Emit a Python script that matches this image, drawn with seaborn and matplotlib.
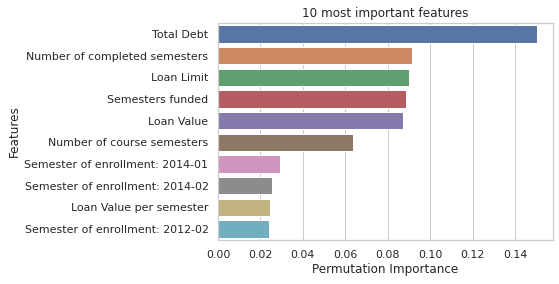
import matplotlib
matplotlib.use("Agg")
import matplotlib.pyplot as plt
import seaborn as sns
import pandas as pd

features = [
    "Total Debt",
    "Number of completed semesters",
    "Loan Limit",
    "Semesters funded",
    "Loan Value",
    "Number of course semesters",
    "Semester of enrollment: 2014-01",
    "Semester of enrollment: 2014-02",
    "Loan Value per semester",
    "Semester of enrollment: 2012-02",
]
importance = [0.1504, 0.0915, 0.0900, 0.0886, 0.0872, 0.0637, 0.0292, 0.0255, 0.0245, 0.0240]

sns.set_theme(style="whitegrid")
df = pd.DataFrame({"Features": features, "Permutation Importance": importance})

fig, ax = plt.subplots(figsize=(559 / 72, 284 / 72), dpi=72)
sns.barplot(data=df, x="Permutation Importance", y="Features", hue="Features",
            palette="deep", legend=False, ax=ax)
ax.set_title("10 most important features")
fig.subplots_adjust(left=218 / 559, right=553 / 559, top=1 - 23 / 284, bottom=1 - 240 / 284)
fig.savefig("out.png", dpi=72)
